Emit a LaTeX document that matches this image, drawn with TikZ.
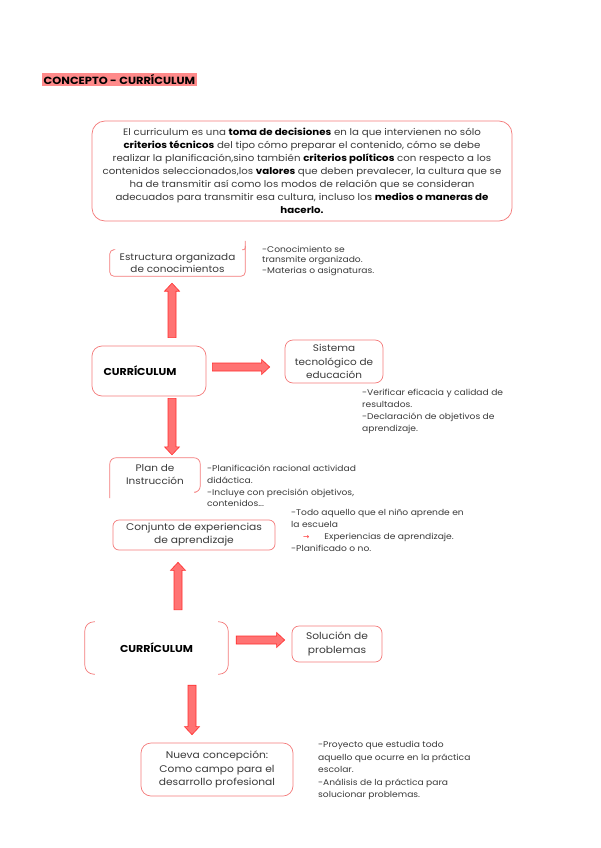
\documentclass[tikz,border=0pt]{standalone}
\usepackage{fontspec}
\setmainfont[FakeStretch=1.1]{Poppins}
\newfontfamily\arrowfont{DejaVu Sans}
\usetikzlibrary{calc}
\definecolor{boxred}{HTML}{F47A7A}
\definecolor{arrfill}{HTML}{FF7373}
\definecolor{arrline}{HTML}{FF2E2E}
\definecolor{titlebg}{HTML}{FF8A8A}
\definecolor{txt}{HTML}{3A3A3A}
\tikzset{
  x=1pt, y=-1pt,
  every node/.style={inner sep=0pt, text=txt},
  box/.style={draw=boxred, line width=0.7pt, rounded corners=#1, align=center},
  box/.default=7pt,
  plainbox/.style={align=center},
  maintext/.style={font=\fontsize{9.3}{12.9}\selectfont},
  sidetext/.style={font=\fontsize{8.3}{#1}\selectfont, align=left, anchor=north west},
  sidetext/.default=11.8,
  barrow/.style={draw=arrline, fill=arrfill, line width=0.6pt, line join=miter,
    to path={
      ($(\tikztostart)!4pt!90:(\tikztotarget)$) --
      ($(\tikztotarget)!8pt!(\tikztostart)!4pt!-90:(\tikztostart)$) --
      ($(\tikztotarget)!8pt!(\tikztostart)!7.5pt!-90:(\tikztostart)$) --
      (\tikztotarget) --
      ($(\tikztotarget)!8pt!(\tikztostart)!7.5pt!90:(\tikztostart)$) --
      ($(\tikztotarget)!8pt!(\tikztostart)!4pt!90:(\tikztostart)$) --
      ($(\tikztostart)!4pt!-90:(\tikztotarget)$) -- cycle}},
  bracket/.style={draw=boxred, line width=0.7pt}
}
\begin{document}
\begin{tikzpicture}
\useasboundingbox (0,0) rectangle (600,848);
\fill[white] (0,0) rectangle (600,848);

% title
\node[fill=titlebg, inner xsep=1.5pt, minimum height=13pt, anchor=west,
      font=\fontsize{10.4}{11}\selectfont\bfseries, text=black] (title) at (42,79.5) {CONCEPTO - CURRÍCULUM};

% main box
\node[box=13pt, minimum width=420pt, minimum height=100pt, maintext] (main) at (302,171)
{El curriculum es una \textbf{\color{black}toma de decisiones} en la que intervienen no sólo\\
\textbf{\color{black}criterios técnicos} del tipo cómo preparar el contenido, cómo se debe\\
realizar la planificación,sino también \textbf{\color{black}criterios políticos} con respecto a los\\
contenidos seleccionados,los \textbf{\color{black}valores} que deben prevalecer, la cultura que se\\
ha de transmitir así como los modos de relación que se consideran\\
adecuados para transmitir esa cultura, incluso los \textbf{\color{black}medios o maneras de}\\
\textbf{\color{black}hacerlo.}};

% Estructura (partial border)
\node[plainbox, minimum width=135pt, minimum height=26pt, font=\fontsize{9.5}{12}\selectfont] (est) at (177.5,263)
{Estructura organizada\\de conocimientos};
\draw[bracket, rounded corners=4pt] ([xshift=3pt]est.north west) -- (est.north west) -- (est.south west) -- (est.south east) -- ([yshift=9pt]est.north east);
\draw[bracket, rounded corners=2pt] ([xshift=-3pt]est.north east) -- (est.north east) -- ([yshift=4pt]est.north east);
\node[sidetext=10.6] (estside) at (262,245.5)
{-Conocimiento se\\transmite organizado.\\-Materias o asignaturas.};

% Curriculum 1
\node[box=10pt, minimum width=114pt, minimum height=50pt] (cur1) at (149,371) {};
\node[font=\fontsize{10}{11}\selectfont\bfseries, text=black] (cur1t) at (140,371) {CURRÍCULUM};

% Sistema
\node[box=8pt, minimum width=98pt, minimum height=43pt, font=\fontsize{9.5}{13.3}\selectfont] (sis) at (334,361.5)
{Sistema\\tecnológico de\\educación};
\node[sidetext=12] (sisside) at (362,389)
{-Verificar eficacia y calidad de\\resultados.\\-Declaración de objetivos de\\aprendizaje.};

% Plan de instruccion (no bottom edge)
\node[plainbox, minimum width=90pt, minimum height=34pt, font=\fontsize{9.5}{13}\selectfont] (plan) at (155,475)
{Plan de\\Instrucción};
\draw[bracket, rounded corners=6pt] ([yshift=-6pt]plan.south west) -- (plan.north west) -- (plan.north east) -- (plan.south east) -- ([xshift=-4pt]plan.south east);
\node[sidetext=11.7] (planside) at (207,465)
{-Planificación racional actividad\\didáctica.\\-Incluye con precisión objetivos,\\contenidos...};

% Conjunto
\node[box=6pt, minimum width=162pt, minimum height=30pt, font=\fontsize{9.7}{13}\selectfont] (conj) at (194,535)
{Conjunto de experiencias\\de aprendizaje};
\node[sidetext=12] (conjside) at (291,509)
{-Todo aquello que el niño aprende en\\la escuela\\
\hspace*{12pt}{\color{arrline}\arrowfont\fontsize{7.5}{12}\selectfont →}\hspace{15pt}Experiencias de aprendizaje.\\
-Planificado o no.};

% Curriculum 2 (brackets only)
\node[plainbox, minimum width=143pt, minimum height=52pt, font=\fontsize{10}{11}\selectfont\bfseries, text=black] (cur2) at (156.5,648) {CURRÍCULUM};
\draw[bracket, rounded corners=9pt] ([xshift=10pt]cur2.north west) -- (cur2.north west) -- (cur2.south west) -- ([xshift=10pt]cur2.south west);
\draw[bracket, rounded corners=9pt] ([xshift=-10pt]cur2.north east) -- (cur2.north east) -- (cur2.south east) -- ([xshift=-10pt]cur2.south east);

% Solucion
\node[box=7pt, minimum width=90pt, minimum height=36pt, font=\fontsize{9.7}{14}\selectfont] (sol) at (337,644)
{Solución de\\problemas};

% Nueva concepcion
\node[box=10pt, minimum width=152pt, minimum height=53pt, font=\fontsize{9.7}{13.6}\selectfont] (nueva) at (217,769.5)
{Nueva concepción:\\Como campo para el\\desarrollo profesional};
\node[sidetext=12.5] (nuevaside) at (318,741)
{-Proyecto que estudia todo\\aquello que ocurre en la práctica\\escolar.\\-Análisis de la práctica para\\solucionar problemas.};

% arrow guide coordinates
\coordinate (xa) at (172,0);
\coordinate (xb) at (178,0);
\coordinate (xc) at (192,0);
\coordinate (ya) at (0,367);
\coordinate (yb) at (0,640);

\path (cur1.north -| xa) ++(0,-8) coordinate (a1s);
\path (est.south -| xa) ++(0,7) coordinate (a1e);
\path (cur1.east |- ya) ++(6,0) coordinate (a2s);
\path (sis.west |- ya) ++(-15,0) coordinate (a2e);
\path (cur1.south -| xa) ++(0,2) coordinate (a3s);
\path (plan.north -| xa) ++(0,-3) coordinate (a3e);
\path (cur2.north -| xb) ++(0,-12) coordinate (a4s);
\path (conj.south -| xb) ++(0,12) coordinate (a4e);
\path (cur2.east |- yb) ++(8,0) coordinate (a5s);
\path (sol.west |- yb) ++(-7,0) coordinate (a5e);
\path (cur2.south -| xc) ++(0,11) coordinate (a6s);
\path (nueva.north -| xc) ++(0,-8) coordinate (a6e);

% arrows
\draw[barrow] (a1s) to (a1e);
\draw[barrow] (a2s) to (a2e);
\draw[barrow] (a3s) to (a3e);
\draw[barrow] (a4s) to (a4e);
\draw[barrow] (a5s) to (a5e);
\draw[barrow] (a6s) to (a6e);
\end{tikzpicture}
\end{document}
